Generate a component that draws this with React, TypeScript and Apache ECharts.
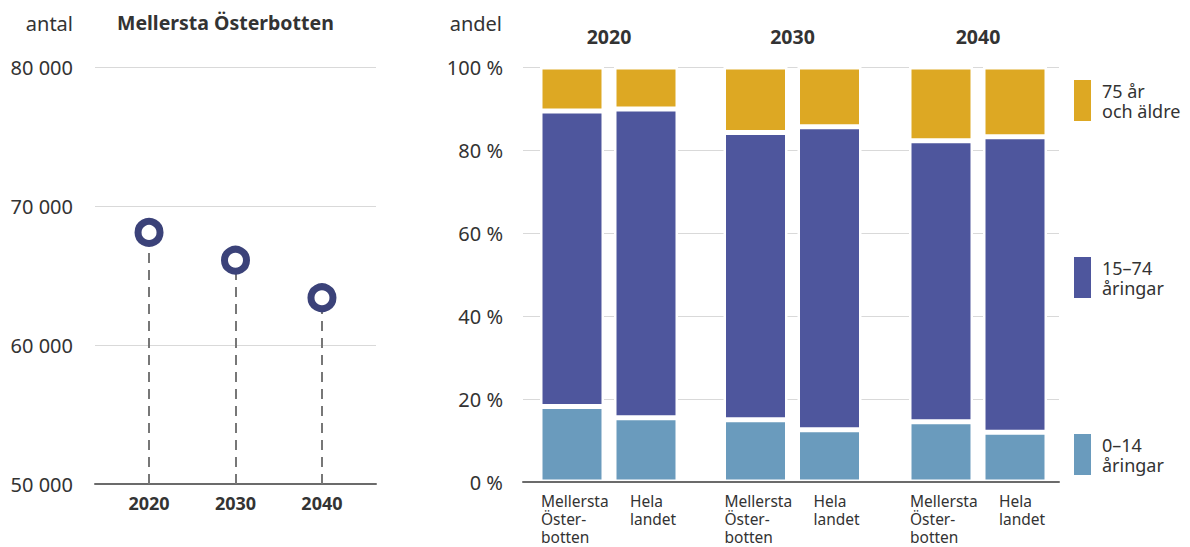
import React, { useEffect, useRef } from "react";
import * as echarts from "echarts";

const years = ["2020", "2030", "2040"];
const yearNums = [2020, 2030, 2040];
const population = [68100, 66100, 63400];
const popTicks = [50000, 60000, 70000, 80000];

const regions = ["Mellersta Österbotten", "Hela landet"];
const regionLines = [["Mellersta", "Öster-", "botten"], ["Hela", "landet"]];

const seriesNames = ["0–14 åringar", "15–74 åringar", "75 år och äldre"];
const legendLines = [["0–14", "åringar"], ["15–74", "åringar"], ["75 år", "och äldre"]];
const colors = ["#6a9bbd", "#4e569d", "#dda823"];

const mo0to14 = [18.2, 15.0, 14.5];
const mo15to74 = [71.2, 69.2, 67.7];
const mo75plus = [10.6, 15.8, 17.8];
const hl0to14 = [15.5, 12.6, 12.0];
const hl15to74 = [74.4, 73.0, 71.2];
const hl75plus = [10.1, 14.4, 16.8];

const FONT = "Noto Sans";
const TXT = "#333333";

export default function App() {
  const ref = useRef<HTMLDivElement>(null);
  useEffect(() => {
    if (!ref.current) return;
    const chart = echarts.init(ref.current, null, { renderer: "svg" });

    const barGridLefts = [535, 718.5, 904];
    const groupsData = [
      [mo0to14, hl0to14],
      [mo15to74, hl15to74],
      [mo75plus, hl75plus],
    ];

    const grids: any[] = [
      { left: 95, width: 281, top: 67, height: 417 },
      { left: 523, width: 536, top: 67, height: 415 },
      ...barGridLefts.map((l) => ({ left: l, width: 148, top: 67, height: 415 })),
    ];

    const xAxes: any[] = [
      {
        gridIndex: 0,
        type: "value",
        min: 2013.75,
        max: 2046.25,
        axisLine: { show: true, onZero: false, lineStyle: { color: "#6b6b6b", width: 2 } },
        axisTick: { show: false },
        splitLine: { show: false },
        axisLabel: {
          customValues: yearNums,
          formatter: (v: number) => String(v),
          fontFamily: FONT,
          fontSize: 18,
          fontWeight: "bold",
          color: TXT,
          margin: 10,
        },
      },
      {
        gridIndex: 1,
        type: "value",
        min: 0,
        max: 1,
        z: 10,
        axisLine: { show: true, onZero: false, lineStyle: { color: "#6b6b6b", width: 2 } },
        axisTick: { show: false },
        axisLabel: { show: false },
        splitLine: { show: false },
      },
      ...barGridLefts.map((_, g) => ({
        gridIndex: 2 + g,
        type: "category",
        data: regions,
        axisLine: { show: false },
        axisTick: { show: false },
        axisLabel: {
          interval: 0,
          margin: 10,
          formatter: (v: string) => {
            const i = regions.indexOf(v);
            const key = i === 0 ? "m" : "h";
            return regionLines[i].map((s) => `{${key}|${s}}`).join("\n");
          },
          rich: {
            m: { width: 62, align: "left", fontFamily: FONT, fontSize: 15.5, lineHeight: 18, color: TXT },
            h: { width: 32, align: "left", fontFamily: FONT, fontSize: 15.5, lineHeight: 18, color: TXT },
          },
        },
      })),
      ...barGridLefts.map((_, g) => ({
        gridIndex: 2 + g,
        type: "category",
        position: "top",
        data: regions,
        axisLine: { show: false },
        axisTick: { show: false },
        axisLabel: { show: false },
        name: years[g],
        nameLocation: "middle",
        nameGap: 21,
        nameTextStyle: { fontFamily: FONT, fontSize: 19.5, fontWeight: "bold", color: TXT },
      })),
    ];

    const yAxes: any[] = [
      {
        gridIndex: 0,
        type: "value",
        min: popTicks[0],
        max: popTicks[popTicks.length - 1],
        interval: 10000,
        axisLine: { show: false },
        axisTick: { show: false },
        splitLine: { lineStyle: { color: "#d9d9d9", width: 1 } },
        axisLabel: {
          formatter: (v: number) => String(v).replace(/\B(?=(\d{3})+(?!\d))/g, " "),
          fontFamily: FONT,
          fontSize: 20,
          color: TXT,
          margin: 22,
        },
        name: "antal",
        nameLocation: "end",
        nameGap: 44,
        nameTextStyle: {
          fontFamily: FONT,
          fontSize: 20,
          color: TXT,
          align: "right",
          verticalAlign: "middle",
          padding: [0, 22, 0, 0],
        },
      },
      {
        gridIndex: 1,
        type: "value",
        min: 0,
        max: 100,
        interval: 20,
        axisLine: { show: false },
        axisTick: { show: false },
        splitLine: { lineStyle: { color: "#d9d9d9", width: 1 } },
        axisLabel: {
          formatter: "{value} %",
          fontFamily: FONT,
          fontSize: 20,
          color: TXT,
          margin: 20,
        },
        name: "andel",
        nameLocation: "end",
        nameGap: 44,
        nameTextStyle: {
          fontFamily: FONT,
          fontSize: 20,
          color: TXT,
          align: "right",
          verticalAlign: "middle",
          padding: [0, 21, 0, 0],
        },
      },
      ...barGridLefts.map((_, g) => ({
        gridIndex: 2 + g,
        type: "value",
        min: 0,
        max: 100,
        show: false,
        splitLine: { show: false },
      })),
    ];

    const barSeries: any[] = [];
    barGridLefts.forEach((_, g) => {
      groupsData.forEach((pair, s) => {
        barSeries.push({
          type: "bar",
          name: seriesNames[s],
          xAxisIndex: 2 + g,
          yAxisIndex: 2 + g,
          stack: "g" + g,
          barWidth: 64,
          itemStyle: { color: colors[s], borderColor: "#ffffff", borderWidth: 2.5 },
          data: [pair[0][g], pair[1][g]],
          z: 3,
        });
      });
    });

    const legendTops = [434, 257, 80];
    const legends = seriesNames.map((n, i) => ({
      data: [n],
      left: 1074,
      top: legendTops[i],
      padding: 0,
      orient: "vertical",
      icon: "rect",
      itemWidth: 17,
      itemHeight: 41,
      itemStyle: { borderWidth: 0 },
      selectedMode: false,
      formatter: () => legendLines[i].join("\n"),
      textStyle: {
        fontFamily: FONT,
        fontSize: 18,
        lineHeight: 20,
        color: TXT,
        padding: [0, 0, 0, 6],
      },
    }));

    chart.setOption({
      animation: false,
      textStyle: { fontFamily: FONT },
      title: {
        text: "Mellersta Österbotten",
        left: 117,
        top: 12,
        padding: 0,
        textStyle: { fontFamily: FONT, fontSize: 19.5, fontWeight: "bold", color: TXT },
      },
      legend: legends,
      grid: grids,
      xAxis: xAxes,
      yAxis: yAxes,
      series: [
        {
          type: "line",
          xAxisIndex: 0,
          yAxisIndex: 0,
          data: yearNums.map((y, i) => [y, population[i]]),
          showSymbol: false,
          lineStyle: { width: 0, opacity: 0 },
          silent: true,
          z: 1,
          markLine: {
            silent: true,
            symbol: "none",
            label: { show: false },
            lineStyle: { type: [10, 7], color: "#777777", width: 2 },
            data: yearNums.map((y, i) => [
              { coord: [y, popTicks[0]] },
              { coord: [y, population[i]] },
            ]),
          },
        },
        {
          type: "scatter",
          xAxisIndex: 0,
          yAxisIndex: 0,
          data: yearNums.map((y, i) => [y, population[i]]),
          symbol: "circle",
          symbolSize: 22,
          itemStyle: { color: "#ffffff", borderColor: "#3b4279", borderWidth: 7, opacity: 1 },
          z: 5,
        },
        ...barSeries,
      ],
    });

    return () => chart.dispose();
  }, []);

  return (
    <div
      ref={ref}
      style={{ position: "fixed", left: 0, top: 0, width: 1190, height: 547, background: "#ffffff" }}
    />
  );
}
